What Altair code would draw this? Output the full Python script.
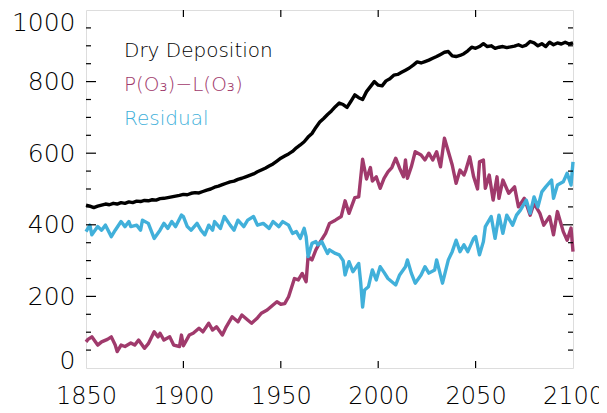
import altair as alt
import pandas as pd

# ---------------- data ----------------
dry_years = list(range(1850, 2101, 2))
dry_values = [
    455, 452, 448, 452, 455, 458, 456, 460, 458, 462,
    460, 464, 462, 466, 465, 468, 467, 470, 469, 473,
    474, 476, 478, 480, 482, 485, 484, 488, 490, 489,
    493, 497, 500, 505, 508, 512, 516, 520, 522, 527,
    530, 534, 538, 542, 548, 553, 558, 564, 570, 578,
    586, 592, 598, 605, 615, 623, 632, 645, 655, 672,
    687, 697, 708, 718, 730, 740, 736, 728, 745, 763,
    755, 750, 772, 786, 800, 790, 788, 802, 808, 818,
    820, 826, 832, 838, 846, 855, 852, 856, 860, 865,
    870, 876, 882, 884, 872, 870, 873, 878, 886, 896,
    893, 898, 906, 898, 900, 893, 896, 898, 895, 897,
    899, 903, 898, 902, 912, 908, 900, 906, 898, 910,
    903, 908, 905, 910, 905, 908,
]

pl_years = [
    1850, 1851, 1853, 1856, 1858, 1861, 1863, 1865, 1866, 1868,
    1870, 1873, 1875, 1877, 1880, 1882, 1885, 1887, 1888, 1890,
    1893, 1895, 1898, 1899, 1900, 1903, 1905, 1908, 1910, 1913,
    1915, 1917, 1920, 1922, 1925, 1928, 1930, 1933, 1935, 1938,
    1940, 1943, 1946, 1948, 1950, 1952, 1954, 1957, 1959, 1961,
    1963, 1964, 1966, 1968, 1970, 1973, 1975, 1978, 1981, 1983,
    1985, 1988, 1990, 1992, 1994, 1996, 1997, 1999, 2001, 2003,
    2005, 2007, 2009, 2011, 2013, 2014, 2015, 2017, 2019, 2022,
    2024, 2026, 2028, 2030, 2032, 2034, 2037, 2038, 2040, 2042,
    2044, 2045, 2047, 2049, 2051, 2052, 2054, 2055, 2057, 2059,
    2061, 2062, 2064, 2067, 2070, 2072, 2075, 2078, 2080, 2083,
    2085, 2088, 2090, 2092, 2095, 2097, 2099, 2100,
]
pl_values = [
    73, 80, 87, 64, 73, 80, 87, 64, 46, 64,
    60, 70, 64, 78, 55, 68, 101, 87, 97, 78,
    87, 64, 60, 92, 62, 92, 97, 111, 101, 125,
    106, 115, 92, 115, 143, 129, 148, 134, 125, 140,
    153, 162, 176, 185, 178, 180, 199, 250, 246, 264,
    241, 311, 302, 330, 350, 376, 404, 413, 423, 467,
    432, 476, 478, 583, 528, 560, 522, 534, 502, 530,
    548, 560, 586, 558, 534, 581, 530, 562, 604, 595,
    581, 600, 581, 604, 562, 642, 586, 567, 516, 553,
    539, 553, 590, 534, 500, 576, 581, 502, 539, 469,
    534, 474, 525, 488, 506, 450, 474, 427, 460, 432,
    399, 423, 372, 437, 381, 357, 391, 325,
]

res_years = [
    1850, 1852, 1853, 1856, 1858, 1860, 1863, 1865, 1868, 1870,
    1872, 1873, 1876, 1878, 1879, 1882, 1883, 1885, 1888, 1890,
    1892, 1894, 1896, 1899, 1900, 1902, 1904, 1907, 1909, 1911,
    1913, 1915, 1916, 1919, 1921, 1924, 1926, 1928, 1931, 1933,
    1936, 1938, 1941, 1944, 1946, 1949, 1951, 1954, 1956, 1958,
    1960, 1962, 1963, 1964, 1966, 1968, 1969, 1971, 1974, 1975,
    1978, 1980, 1982, 1983, 1985, 1987, 1990, 1991, 1992, 1993,
    1995, 1997, 1999, 2001, 2003, 2005, 2009, 2011, 2014, 2015,
    2017, 2019, 2022, 2024, 2026, 2029, 2030, 2033, 2036, 2038,
    2040, 2042, 2044, 2046, 2049, 2050, 2052, 2054, 2055, 2058,
    2060, 2062, 2064, 2066, 2069, 2071, 2073, 2076, 2078, 2080,
    2082, 2084, 2086, 2089, 2090, 2092, 2095, 2097, 2099, 2100,
]
res_values = [
    381, 399, 372, 395, 385, 399, 367, 385, 409, 395,
    409, 395, 399, 385, 413, 404, 390, 362, 385, 404,
    390, 409, 395, 427, 423, 395, 385, 404, 385, 372,
    399, 385, 409, 390, 423, 399, 385, 413, 395, 413,
    423, 399, 404, 390, 409, 395, 409, 399, 376, 381,
    362, 390, 367, 311, 348, 353, 344, 353, 320, 330,
    320, 316, 300, 260, 297, 269, 292, 240, 170, 218,
    227, 274, 246, 283, 267, 250, 232, 260, 283, 302,
    265, 237, 260, 283, 265, 274, 302, 237, 302, 325,
    357, 325, 344, 325, 362, 367, 316, 353, 395, 423,
    362, 427, 376, 427, 399, 427, 441, 469, 432, 478,
    450, 492, 506, 525, 474, 511, 520, 544, 511, 576,
]

series_names = ["Dry Deposition", "P(O\u2083)\u2212L(O\u2083)", "Residual"]
series_colors = ["#000000", "#A03A6C", "#41B0DA"]

x_domain = [1850, 2100]
y_domain = [0, 1000]
x_label_values = [1850, 1900, 1950, 2000, 2050, 2100]
y_label_values = [0, 200, 400, 600, 800, 1000]
x_tick_values = [1900, 1950, 2000, 2050]
y_major_ticks = [200, 400, 600, 800]
y_minor_ticks = [50, 100, 150, 250, 300, 350, 450, 500, 550,
                 650, 700, 750, 850, 900, 950]

assert len(dry_years) == len(dry_values)
assert len(pl_years) == len(pl_values)
assert len(res_years) == len(res_values)

W, H = 487, 358
FONT = "DejaVu Sans"

xs = alt.Scale(domain=x_domain, nice=False, zero=False)
ys = alt.Scale(domain=y_domain, nice=False, zero=False)

XA = alt.Axis(values=x_label_values, format="d", ticks=False, tickSize=0,
              domain=False, grid=False, labelPadding=16, labelFontSize=24,
              labelFont=FONT, labelFontWeight=200, labelColor="black",
              labelOverlap=False, labelFlush=False, labelBound=False, title=None)
YA = alt.Axis(values=y_label_values, format="d", ticks=False, tickSize=0,
              domain=False, grid=False, labelPadding=11, labelFontSize=25,
              labelFont=FONT, labelFontWeight=200, labelColor="black",
              labelOverlap=False, labelFlush=False,
              labelBaseline={"condition": [
                  {"test": "datum.value == 1000", "value": "top"},
                  {"test": "datum.value == 0", "value": "alphabetic"}],
                  "value": "middle"},
              title=None)


def series_layer(years, values, color):
    df = pd.DataFrame({"year": years, "value": values})
    return alt.Chart(df).mark_line(color=color, strokeWidth=3.4, strokeJoin="round").encode(
        x=alt.X("year:Q", scale=xs, axis=XA),
        y=alt.Y("value:Q", scale=ys, axis=YA),
        order="year:Q",
    )


def ytick_layer(vals, x0, x1):
    return alt.Chart(pd.DataFrame({"value": vals})).mark_rule(color="black", strokeWidth=1.2).encode(
        y=alt.Y("value:Q", scale=ys, axis=YA), x=alt.value(x0), x2=alt.value(x1))


def xtick_layer(vals, y0, y1):
    return alt.Chart(pd.DataFrame({"year": vals})).mark_rule(color="black", strokeWidth=1.2).encode(
        x=alt.X("year:Q", scale=xs, axis=XA), y=alt.value(y0), y2=alt.value(y1))


def legend_layer(text, color, ypos):
    return alt.Chart(pd.DataFrame({"t": [text]})).mark_text(
        align="left", baseline="alphabetic", fontSize=20, font=FONT, fontWeight=200,
        color=color).encode(text="t:N", x=alt.value(38), y=alt.value(ypos))


layers = [
    series_layer(dry_years, dry_values, series_colors[0]),
    series_layer(pl_years, pl_values, series_colors[1]),
    series_layer(res_years, res_values, series_colors[2]),
    ytick_layer(y_major_ticks, 0, 10),
    ytick_layer(y_minor_ticks, 0, 5),
    ytick_layer(y_major_ticks, W - 10, W),
    ytick_layer(y_minor_ticks, W - 5, W),
    xtick_layer(x_tick_values, H, H - 7),
    xtick_layer(x_tick_values, 0, 7),
    legend_layer(series_names[0], series_colors[0], 47),
    legend_layer(series_names[1], series_colors[1], 81),
    legend_layer(series_names[2], series_colors[2], 115),
]

chart = alt.layer(*layers).properties(
    width=W, height=H,
    autosize=alt.AutoSizeParams(type="none"),
    padding={"left": 78, "top": 2, "right": 26, "bottom": 37},
).configure_view(stroke="#111111", strokeWidth=1.5).configure(background="white")

chart.save("out.html", embed_options={"renderer": "svg", "actions": False})
